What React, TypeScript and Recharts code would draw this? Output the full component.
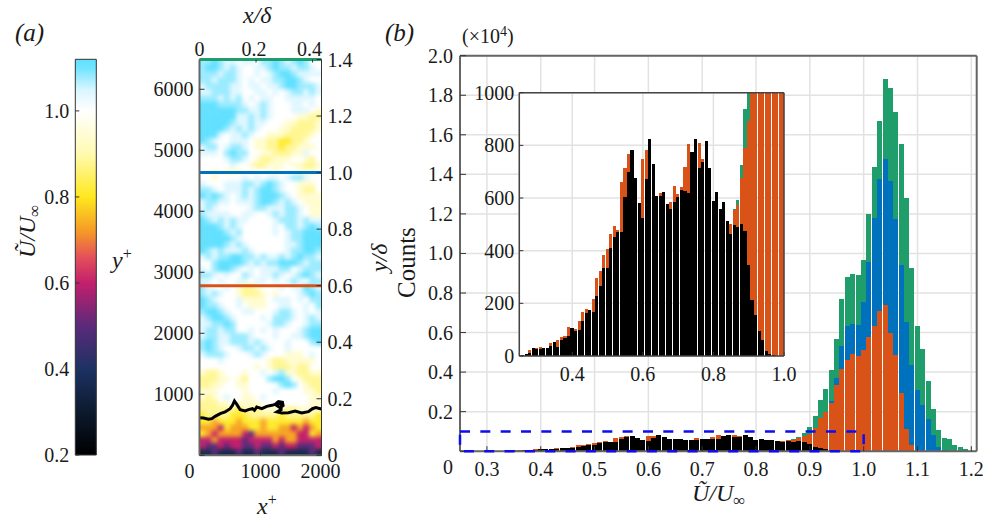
import React from "react"
import {
  Bar,
  CartesianGrid,
  ComposedChart,
  Line,
  ReferenceArea,
  ReferenceLine,
  Scatter,
  XAxis,
  YAxis,
} from "recharts"

const W = 991
const H = 518
const FONT = "'Liberation Serif', 'Times New Roman', serif"

// histogram bins: centre of first bin is 0.26, one bin every 0.01
const firstBin = 0.26
const binWidth = 0.01

const blackCounts = [
  5, 8, 13, 30, 28, 28, 30, 30, 39, 53, 35, 62, 67, 76, 106, 95, 99, 134, 163, 176,
  168, 228, 266, 334, 334, 410, 453, 472, 472, 604, 699, 782, 676, 581, 524, 672, 824, 729, 608, 608,
  623, 577, 558, 585, 604, 630, 627, 619, 775, 824, 714, 737, 816, 714, 589, 623, 558, 585, 513, 463,
  497, 490, 501, 475, 346, 213, 156, 95, 61, 20, 8, 4, 1, 0, 0, 0, 0, 0, 0, 0,
  0, 0, 0, 0, 0, 0, 0, 0, 0, 0, 0, 0, 0, 0, 0,
]
const orangeCounts = [
  5, 8, 23, 30, 32, 34, 30, 30, 50, 53, 60, 71, 76, 110, 106, 101, 133, 166, 178, 176,
  216, 296, 323, 384, 406, 463, 494, 478, 660, 714, 767, 782, 676, 581, 748, 782, 824, 729, 608, 619,
  623, 577, 585, 646, 615, 642, 718, 805, 775, 824, 809, 748, 816, 714, 589, 623, 558, 585, 513, 501,
  554, 573, 676, 790, 892, 1150, 1695, 2000, 2420, 3350, 4180, 4600, 4910, 4810, 5110, 5750, 6320, 7080, 7390, 5970,
  4860, 2920, 1110, 300, 80, 0, 0, 0, 0, 0, 0, 0, 0, 0, 0,
]
const blueCounts = [
  0, 0, 0, 0, 0, 0, 0, 0, 0, 0, 0, 0, 0, 0, 0, 0, 0, 0, 0, 0,
  0, 0, 0, 0, 0, 0, 0, 0, 0, 0, 0, 0, 0, 0, 0, 0, 0, 0, 0, 0,
  0, 0, 0, 0, 0, 0, 0, 0, 0, 0, 0, 0, 0, 0, 0, 0, 0, 0, 0, 0,
  0, 0, 0, 0, 0, 1000, 1500, 1900, 2560, 3700, 5310, 6340, 6420, 6370, 7550, 9560, 11790, 13760, 14770, 13660,
  11740, 9410, 6530, 4350, 3090, 2330, 1650, 810, 220, 50, 0, 0, 0, 0, 0,
]
const greenCounts = [
  0, 0, 0, 0, 0, 0, 0, 0, 0, 0, 0, 0, 0, 0, 0, 0, 0, 0, 0, 0,
  0, 0, 0, 0, 0, 0, 0, 0, 0, 0, 0, 0, 0, 0, 0, 0, 0, 0, 0, 0,
  0, 0, 0, 0, 0, 0, 0, 0, 0, 0, 0, 0, 0, 0, 0, 0, 0, 0, 0, 0,
  560, 592, 725, 938, 1230, 1790, 2580, 3140, 4100, 5670, 7690, 8800, 8950, 8900, 9660, 11990, 14370, 16690, 18820, 18360,
  17150, 15530, 12800, 9260, 6320, 5160, 3540, 2120, 1060, 660, 610, 300, 200, 100, 30,
]

const histData = blackCounts.map((black, i) => ({
  u: Number((firstBin + i * binWidth).toFixed(2)),
  black,
  orange: orangeCounts[i],
  blue: blueCounts[i],
  green: greenCounts[i],
}))
const insetData = histData.slice(0, 75)

const mainXTicks = [0.3, 0.4, 0.5, 0.6, 0.7, 0.8, 0.9, 1.0, 1.1, 1.2]
const mainYTicks = [0, 2000, 4000, 6000, 8000, 10000, 12000, 14000, 16000, 18000, 20000]
const insetXTicks = [0.4, 0.6, 0.8, 1.0]
const insetYTicks = [0, 200, 400, 600, 800, 1000]

// colour map of the velocity field
const colorStops: [number, string][] = [
  [0.2, "#000000"],
  [0.3, "#0c1a2e"],
  [0.4, "#1d3263"],
  [0.5, "#5a2a7a"],
  [0.6, "#c2206c"],
  [0.66, "#e4505a"],
  [0.72, "#f59a26"],
  [0.8, "#ffe81e"],
  [0.9, "#fffab0"],
  [1.0, "#ffffff"],
  [1.05, "#d8f5ff"],
  [1.1, "#70e4ff"],
  [1.12, "#60e0ff"],
]
const colorbarTicks = [0.2, 0.4, 0.6, 0.8, 1.0]

const heatLevels: Record<string, number> = {
  ".": 1.0,
  "-": 1.04,
  c: 1.08,
  C: 1.12,
  y: 0.94,
  Y: 0.88,
  Z: 0.81,
  o: 0.73,
  m: 0.6,
  p: 0.5,
  n: 0.36,
}

// one row per 100 y+ from the top, one column per 100 x+
const heatRows = [
  "ccCc--.--.ccCc-cCc..",
  "cCCc-c-..--cCcc-cc-.",
  "ccc-cc-..-.-cCCc----",
  "cc-ccc-.-.--ccCCc-..",
  "-cccc--.--.--cCCccc-",
  "--ccc--..--.-.-cc-c-",
  "ccc-c-c.-.--..-----.",
  "CCCcccc-.-c-...--.-.",
  "CCCCCCcc--c-...---.y",
  "CCCCCC--c-c-....yyYY",
  "CCCCCc--c--...yyYYYy",
  "CCCCc-c-c-...yyYYYYy",
  "CCC-.--c-..yyyYYYYy.",
  "Cc-..---.yyYYZZYYy..",
  "-cc.-cc-.yyYYZYYyyy.",
  "---.cCcc..yyYYYyy-..",
  "....-cc-.yYYyyy..yY.",
  ".....-..yYYyyy.yyYYy",
  "..y.yyy.....y...yyy.",
  "..y....-.-.--.-cc-..",
  "-...---cc-cCc-..yyy.",
  "cc-.---c-cCCc-..yYY.",
  "CcCc-.-c-cCCCc-.yyyy",
  "-cc--.---cCCc-c-.yyy",
  "-c-.....-cc---cc-.yy",
  "c----..--..-c-cc-.yy",
  "Cc-c-c--....-ccc-c--",
  "CCCc-c-.....-.cc-cCc",
  "CCCCc-c.....-.-ccCCC",
  "CCCCCc-.......-ccCCC",
  "CCCCc-c-......--cCCC",
  "Cc-c---c-.....-ccCCc",
  "-c-ccCCcc-c--c-cCcc-",
  "..cCCCCc-c-ccCCCc-cc",
  "-.cCCc-.-.---cc.-ccc",
  "cc-.-..c-.--c-.-cCc-",
  "--.-..--.--.-.-c-.cc",
  "c-..-.yYYy...-.--Cc-",
  "c-c-..yYYYy.y...-cCc",
  "Cc-...-yyyy.---.-.cc",
  "Ccc-..-.yyy..--..-.c",
  "cCCc-..--...-cc-.-.-",
  "-cCCc-....-.ccc-.-c-",
  "--ccCc.....-cc-..-cc",
  "-cc-cc..-.-.-...-cCC",
  "-cc--ccc-...-..--cCC",
  "cCc--ccc-c-...-...cC",
  "cCc-..-cc-c-..-.....",
  "-ccc-...-c-...yyy.-.",
  "...-.......yYYyyyyy.",
  ".........y.yYYYyYY..",
  "yYYy...y..-.-cyyYYyy",
  "YYYyy.yY...cCCc.yYYY",
  "YYyy..yy.....cCc.yYY",
  "yyy....y....-....yyY",
  "yYy.-..yy.-.......yy",
  "YYYyy.yyyy........yy",
  "YYYYYYZyYYyyyyYYyyyy",
  "ZYYYYZZZYYYYYZYYYYYZ",
  "ZZoZZZoZZZoZZZZZZoZZ",
  "ooomZoooZZoZZoomomoZ",
  "ZomoooompooooooommZo",
  "mmommmmpmmmmomoommmm",
  "mppmpmmppmppmpmmpppm",
  "nnpnnnpnnpnnnpnnnnpn",
]

// turbulent / non-turbulent interface, x+ and y+
const contourX = [0, 66, 147, 202, 257, 339, 420, 502, 541, 573, 612, 666, 748, 803, 868, 901, 939, 1021, 1103, 1185, 1239, 1294, 1360, 1370, 1321, 1272, 1294, 1338, 1338, 1272, 1349, 1458, 1567, 1676, 1785, 1851, 1906, 1998]
const contourY = [617, 612, 590, 601, 639, 683, 710, 764, 819, 890, 835, 748, 726, 748, 764, 737, 792, 764, 803, 819, 835, 879, 868, 814, 781, 814, 857, 835, 748, 710, 693, 699, 726, 693, 715, 764, 781, 759]

const panelXTicks = [0, 1000, 2000]
const panelYTicks = [0, 1000, 2000, 3000, 4000, 5000, 6000]
const panelTopTicks = [0, 0.2, 0.4]
const panelRightTicks = [0, 0.2, 0.4, 0.6, 0.8, 1.0, 1.2, 1.4]
const lineHeights = { green: 6488, blue: 4634, orange: 2780 }
const outerRange = [
  { xd: 0, yd: 0 },
  { xd: 0.43, yd: 1.4 },
]

function hexToRgb(hex: string) {
  return [1, 3, 5].map((i) => parseInt(hex.slice(i, i + 2), 16))
}

function colorFor(u: number) {
  for (let i = 1; i < colorStops.length; i++) {
    const [u1, c1] = colorStops[i]
    if (u <= u1) {
      const [u0, c0] = colorStops[i - 1]
      const t = (u - u0) / (u1 - u0)
      const a = hexToRgb(c0)
      const b = hexToRgb(c1)
      return `rgb(${a.map((v, k) => Math.round(v + (b[k] - v) * t)).join(",")})`
    }
  }
  return colorStops[colorStops.length - 1][1]
}

const heatData = heatRows.flatMap((row, r) =>
  row.split("").map((ch, c) => ({
    x: 50 + c * 100,
    y: 6450 - r * 100,
    color: colorFor(heatLevels[ch]),
  })),
)
const contourData = contourX.map((x, i) => ({ x, y: contourY[i] }))

const tickStyle = { fontFamily: FONT, fontSize: 20, fill: "#1a1a1a" }
const axisLine = { stroke: "#666", strokeWidth: 2 }
const tickLine = { stroke: "#333", strokeWidth: 1 }
const insetLine = { stroke: "#444", strokeWidth: 1.5 }

// plot box in page pixels turned into chart margins
function box(left: number, top: number, right: number, bottom: number, lw: number, tw: number, rw: number, bw: number) {
  return { left: left - lw, top: top - tw, right: W - right - rw, bottom: H - bottom - bw }
}

function Layer({ children }: { children: React.ReactNode }) {
  return <div style={{ position: "absolute", left: 0, top: 0, width: W, height: H }}>{children}</div>
}

function shiftedTick(fmt: (v: number) => string, shift: (v: number) => [number, number]) {
  return (p: any) => {
    const [dx, dy] = shift(p.payload.value)
    return (
      <text x={p.x + dx} y={p.y + dy} textAnchor={p.textAnchor} dominantBaseline="central" {...tickStyle}>
        {fmt(p.payload.value)}
      </text>
    )
  }
}

function HeatCell(props: any) {
  const s = 3.2
  // edge cells run past the plot box so the blur does not fade the border
  const l = props.payload.x === 50 ? 10 : s
  const r = props.payload.x === 1950 ? 10 : s
  const t = props.payload.y === 6450 ? 10 : s
  const b = props.payload.y === 50 ? 10 : s
  return <rect x={props.cx - l} y={props.cy - t} width={l + r} height={t + b} fill={props.payload.color} />
}

function Colorbar() {
  return (
    <ComposedChart
      width={W}
      height={H}
      data={[{ name: "U", range: [0.2, 1.12] }]}
      margin={box(75.3, 59.3, 96, 455, 60, 0, 0, 0)}
      barCategoryGap={0}
    >
      <defs>
        <linearGradient id="cmap" x1="0" y1="1" x2="0" y2="0">
          {colorStops.map(([u, c]) => (
            <stop key={u} offset={`${((u - 0.2) / 0.92) * 100}%`} stopColor={c} />
          ))}
        </linearGradient>
      </defs>
      <XAxis dataKey="name" hide />
      <YAxis
        type="number"
        width={60}
        domain={[0.2, 1.12]}
        ticks={colorbarTicks}
        tickFormatter={(v) => Number(v).toFixed(1)}
        tickSize={-4}
        tickMargin={10}
        tick={tickStyle}
        axisLine={false}
        tickLine={tickLine}
      />
      <Bar dataKey="range" fill="url(#cmap)" stroke="#333" strokeWidth={1} isAnimationActive={false} />
    </ComposedChart>
  )
}

function FieldImage() {
  // blurred copy of the coarse grid, cut to the plot box
  return (
    <div style={{ clipPath: "inset(59.5px 669.5px 62.7px 199.5px)" }}>
      <div style={{ filter: "blur(2.1px)" }}>
        <ComposedChart width={W} height={H} data={heatData} margin={box(199.5, 59.5, 321.5, 455.3, 0, 0, 0, 0)}>
          <XAxis dataKey="x" type="number" domain={[0, 2000]} hide />
          <YAxis dataKey="y" type="number" domain={[0, 6488]} hide />
          <Scatter shape={HeatCell} isAnimationActive={false} />
        </ComposedChart>
      </div>
    </div>
  )
}

function FieldAxes() {
  return (
    <ComposedChart width={W} height={H} data={contourData} margin={box(199.5, 59.5, 321.5, 455.3, 60, 30, 40, 30)}>
      <XAxis
        xAxisId="bottom"
        dataKey="x"
        type="number"
        orientation="bottom"
        height={30}
        domain={[0, 2000]}
        ticks={panelXTicks}
        tickSize={-4}
        tickMargin={20}
        axisLine={axisLine}
        tickLine={tickLine}
        tick={shiftedTick(String, (v) => [v === 0 ? -10 : v === 2000 ? -1 : 0, 0])}
      />
      <XAxis
        xAxisId="top"
        dataKey="xd"
        type="number"
        orientation="top"
        height={30}
        domain={[0, 2000 / 4634]}
        ticks={panelTopTicks}
        tickSize={-3}
        tickMargin={14}
        axisLine={false}
        tickLine={tickLine}
        tick={shiftedTick(String, (v) => [v === 0 ? 0 : v === 0.2 ? -2 : -3, 0])}
      />
      <YAxis
        yAxisId="left"
        dataKey="y"
        type="number"
        width={60}
        domain={[0, 6488]}
        ticks={panelYTicks}
        tickFormatter={(v) => (v === 0 ? "" : String(v))}
        tickSize={-5}
        tickMargin={11}
        tick={tickStyle}
        axisLine={axisLine}
        tickLine={tickLine}
      />
      <YAxis
        yAxisId="right"
        dataKey="yd"
        type="number"
        orientation="right"
        width={40}
        domain={[0, 1.4]}
        ticks={panelRightTicks}
        tickFormatter={(v) => (v === 0 ? "0" : Number(v).toFixed(1))}
        tickSize={-5}
        tickMargin={11}
        tick={tickStyle}
        axisLine={{ stroke: "#333", strokeWidth: 1 }}
        tickLine={tickLine}
      />
      {/* keeps the outer-unit axes alive, draws nothing */}
      <Line
        xAxisId="top"
        yAxisId="right"
        data={outerRange}
        dataKey="yd"
        stroke="none"
        dot={false}
        isAnimationActive={false}
      />
      <Line
        xAxisId="bottom"
        yAxisId="left"
        dataKey="y"
        stroke="#000"
        strokeWidth={3}
        dot={false}
        isAnimationActive={false}
      />
      <ReferenceLine xAxisId="bottom" yAxisId="left" y={lineHeights.green} stroke="#1f9e6c" strokeWidth={3} />
      <ReferenceLine xAxisId="bottom" yAxisId="left" y={lineHeights.blue} stroke="#0072bd" strokeWidth={3} />
      <ReferenceLine xAxisId="bottom" yAxisId="left" y={lineHeights.orange} stroke="#d95319" strokeWidth={3} />
    </ComposedChart>
  )
}

function histBars() {
  return [
    ["green", "#1f9e6c"],
    ["blue", "#0072bd"],
    ["orange", "#d95319"],
    ["black", "#000000"],
  ].map(([key, color]) => (
    <Bar key={key} dataKey={key} fill={color} shapeRendering="crispEdges" isAnimationActive={false} />
  ))
}

function frameLine() {
  // only there so that the top and right axes get a scale
  return <Line xAxisId="top" yAxisId="right" dataKey="green" stroke="none" dot={false} isAnimationActive={false} />
}

function MainHistogram() {
  return (
    <ComposedChart
      width={W}
      height={H}
      data={histData}
      margin={box(460, 55.7, 976.7, 451.2, 60, 1, 1, 30)}
      barSize={5}
      barGap={-5}
    >
      <CartesianGrid stroke="#e2e2e2" strokeWidth={1.5} />
      <XAxis
        dataKey="u"
        type="number"
        height={30}
        domain={[0.25, 1.21]}
        ticks={mainXTicks}
        tickFormatter={(v) => Number(v).toFixed(1)}
        tickSize={-5}
        tickMargin={16}
        tick={tickStyle}
        axisLine={axisLine}
        tickLine={tickLine}
      />
      <XAxis xAxisId="top" dataKey="u" type="number" orientation="top" height={1} domain={[0.25, 1.21]} ticks={mainXTicks} tickSize={-5} tick={false} axisLine={axisLine} tickLine={tickLine} />
      <YAxis
        type="number"
        width={60}
        domain={[0, 20000]}
        ticks={mainYTicks}
        tickSize={-6}
        tickMargin={13}
        axisLine={axisLine}
        tickLine={tickLine}
        tick={shiftedTick(
          (v) => (v === 0 ? "0" : (v / 10000).toFixed(1)),
          (v) => [0, v === 0 ? 16 : 0],
        )}
      />
      <YAxis yAxisId="right" type="number" orientation="right" width={1} domain={[0, 20000]} ticks={mainYTicks} tickSize={-6} tick={false} axisLine={axisLine} tickLine={tickLine} />
      {histBars()}
      {frameLine()}
    </ComposedChart>
  )
}

function ZoomBox() {
  // dashed box marking the range of the inset, drawn over the bars
  return (
    <ComposedChart width={W} height={H} data={histData} margin={box(460, 55.7, 976.7, 451.2, 0, 0, 0, 0)}>
      <XAxis dataKey="u" type="number" domain={[0.25, 1.21]} hide />
      <YAxis type="number" domain={[0, 20000]} hide />
      <Line dataKey="green" stroke="none" dot={false} isAnimationActive={false} />
      <ReferenceArea
        x1={0.25}
        x2={1.0}
        y1={0}
        y2={1000}
        fill="none"
        stroke="#0d0df0"
        strokeWidth={2.5}
        strokeDasharray="10 10.33"
        ifOverflow="visible"
      />
    </ComposedChart>
  )
}

function InsetHistogram() {
  return (
    <ComposedChart
      width={W}
      height={H}
      data={insetData}
      margin={box(519.3, 92.7, 784, 356, 60, 1, 1, 30)}
      barSize={3.1}
      barGap={-3.1}
    >
      <CartesianGrid stroke="#e2e2e2" strokeWidth={1.5} fill="#fff" />
      <XAxis
        dataKey="u"
        type="number"
        height={30}
        domain={[0.25, 1.0]}
        allowDataOverflow
        ticks={insetXTicks}
        tickFormatter={(v) => Number(v).toFixed(1)}
        tickSize={-4}
        tickMargin={15}
        tick={tickStyle}
        axisLine={insetLine}
        tickLine={tickLine}
      />
      <XAxis xAxisId="top" dataKey="u" type="number" orientation="top" height={1} domain={[0.25, 1.0]} ticks={insetXTicks} tickSize={-4} tick={false} axisLine={insetLine} tickLine={tickLine} />
      <YAxis
        type="number"
        width={60}
        domain={[0, 1000]}
        allowDataOverflow
        ticks={insetYTicks}
        tickSize={-4}
        tickMargin={9}
        tick={tickStyle}
        axisLine={insetLine}
        tickLine={tickLine}
      />
      <YAxis yAxisId="right" type="number" orientation="right" width={1} domain={[0, 1000]} ticks={insetYTicks} tickSize={-4} tick={false} axisLine={insetLine} tickLine={tickLine} />
      {histBars()}
      {frameLine()}
    </ComposedChart>
  )
}

function UOverU() {
  return (
    <>
      <tspan fontStyle="italic">Ũ/U</tspan>
      <tspan fontSize={17} dy={5}>∞</tspan>
    </>
  )
}

function Annotations() {
  const t = { fontFamily: FONT, fill: "#1a1a1a" }
  return (
    <svg width={W} height={H} style={{ position: "absolute", left: 0, top: 0 }}>
      <text x={15} y={41} fontSize={25} fontStyle="italic" {...t}>(a)</text>
      <text x={385} y={41} fontSize={25} fontStyle="italic" {...t}>(b)</text>
      <text x={462} y={43} fontSize={20} {...t}>
        (×10<tspan fontSize={14} dy={-7}>4</tspan><tspan dy={7}>)</tspan>
      </text>
      <text x={243} y={23} fontSize={24} fontStyle="italic" {...t}>x/δ</text>
      <text x={257} y={514} fontSize={24} fontStyle="italic" {...t}>
        x<tspan fontSize={16} dy={-9} fontStyle="normal">+</tspan>
      </text>
      <text x={112} y={268} fontSize={24} fontStyle="italic" {...t}>
        y<tspan fontSize={16} dy={-9} fontStyle="normal">+</tspan>
      </text>
      <text transform="translate(35,258) rotate(-90)" fontSize={24} {...t}><UOverU /></text>
      <text transform="translate(387,272) rotate(-90)" fontSize={24} fontStyle="italic" {...t}>y/δ</text>
      <text transform="translate(415,298) rotate(-90)" fontSize={25} {...t}>Counts</text>
      <text x={692} y={501} fontSize={24} {...t}><UOverU /></text>
    </svg>
  )
}

export default function App() {
  return (
    <div style={{ position: "fixed", left: 0, top: 0, width: W, height: H, background: "#fff", overflow: "hidden" }}>
      <Layer><Colorbar /></Layer>
      <Layer><FieldImage /></Layer>
      <Layer><FieldAxes /></Layer>
      <Layer><MainHistogram /></Layer>
      <Layer><InsetHistogram /></Layer>
      <Layer><ZoomBox /></Layer>
      <Annotations />
    </div>
  )
}
